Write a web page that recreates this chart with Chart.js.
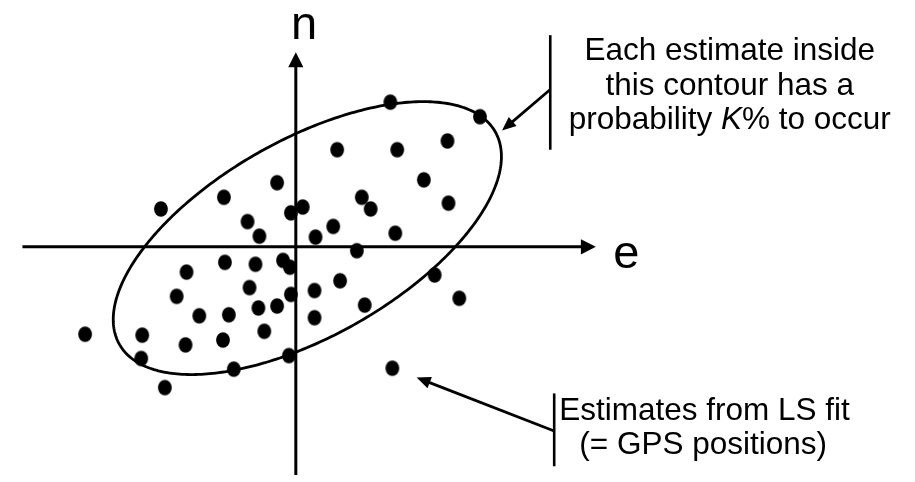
<!DOCTYPE html>
<html>
<head>
<meta charset="utf-8">
<title>Error ellipse of GPS position estimates</title>
<script src="https://cdn.jsdelivr.net/npm/chart.js@4/dist/chart.umd.min.js"></script>
<style>
  html, body { margin: 0; padding: 0; background: #ffffff; }
  #wrap { width: 915px; height: 482px; position: relative; }
</style>
</head>
<body>
<div id="wrap"><canvas id="chart"></canvas></div>
<script>
// Position estimates from the least-squares fit (east, north offsets)
const eastValues = [
  9.6, 18.7, 15.4, 4.2, 10.3, 13.0, -1.9, -7.3, 6.7, -13.7,
  7.6, 15.5, 0.7, -0.5, -4.9, 3.8, -3.7, 2.0, 10.1, 6.2,
  -7.2, -4.1, -1.3, -0.6, -11.1, 14.1, -4.7, 4.5, -0.5, 1.9,
  -12.1, 16.6, -3.8, -1.9, -9.8, -6.8, 7.0, 1.9, -21.4, -15.6,
  -3.2, -11.2, -7.4, -15.7, -0.7, -6.3, 9.8, -13.3
];
const northValues = [
  14.9, 13.4, 10.9, 10.0, 10.0, 6.9, 6.6, 5.1, 5.1, 3.9,
  3.9, 4.5, 4.1, 3.5, 2.6, 2.1, 1.1, 1.0, 1.4, -0.4,
  -1.6, -1.8, -1.4, -2.1, -2.6, -2.9, -4.2, -3.5, -4.9, -4.5,
  -5.1, -5.3, -6.3, -6.1, -7.1, -7.0, -6.0, -7.3, -9.0, -9.1,
  -8.7, -10.1, -9.6, -11.5, -11.2, -12.6, -12.5, -14.5
];

// Confidence contour: centre, semi-axes and orientation (degrees from east)
const ellipseCenter = [1.17, 0.9];
const ellipseAxes = [22.0, 10.1];
const ellipseAngle = 30;

// Axis names
const axisLabels = ['e', 'n'];

// Callout texts
const contourNote = ['Each estimate inside', 'this contour has a', ['probability ', 'K', '% to occur']];
const estimateNote = ['Estimates from LS fit', '(= GPS positions)'];

const points = eastValues.map((e, i) => ({ x: e, y: northValues[i] }));

const FONT = '"Liberation Sans", Arial, Helvetica, sans-serif';
const TEXT_SIZE = 31.5;

// slightly tall oval marker
const marker = document.createElement('canvas');
marker.width = 16; marker.height = 18;
(function () {
  const m = marker.getContext('2d');
  m.fillStyle = '#000';
  m.beginPath();
  m.ellipse(8, 9, 6.9, 7.8, 0, 0, Math.PI * 2);
  m.fill();
})();

function arrowHead(ctx, x0, y0, x1, y1, len, half) {
  const ang = Math.atan2(y1 - y0, x1 - x0);
  const c = Math.cos(ang), s = Math.sin(ang);
  ctx.beginPath();
  ctx.moveTo(x1, y1);
  ctx.lineTo(x1 - len * c - half * s, y1 - len * s + half * c);
  ctx.lineTo(x1 - len * c + half * s, y1 - len * s - half * c);
  ctx.closePath();
  ctx.fill();
}

function arrow(ctx, x0, y0, x1, y1, width, len, half) {
  const ang = Math.atan2(y1 - y0, x1 - x0);
  ctx.lineWidth = width;
  ctx.beginPath();
  ctx.moveTo(x0, y0);
  ctx.lineTo(x1 - (len * 0.8) * Math.cos(ang), y1 - (len * 0.8) * Math.sin(ang));
  ctx.stroke();
  arrowHead(ctx, x0, y0, x1, y1, len, half);
}

const decorPlugin = {
  id: 'decor',
  beforeDatasetsDraw(chart) {
    const ctx = chart.ctx;
    const xs = chart.scales.x, ys = chart.scales.y;
    const X = v => xs.getPixelForValue(v);
    const Y = v => ys.getPixelForValue(v);
    ctx.save();
    ctx.strokeStyle = '#000';
    ctx.fillStyle = '#000';
    ctx.lineCap = 'butt';

    // east axis
    arrow(ctx, X(-27.76), Y(0), X(30.47), Y(0), 3, 15, 7.6);
    // north axis
    arrow(ctx, X(0), Y(-23.5), X(0), Y(20.03), 3, 15, 7.6);

    // confidence ellipse
    const phi = ellipseAngle * Math.PI / 180;
    const [cx, cy] = ellipseCenter;
    const [a, b] = ellipseAxes;
    ctx.lineWidth = 2.8;
    ctx.beginPath();
    for (let i = 0; i <= 360; i++) {
      const t = i * Math.PI / 180;
      const u = a * Math.cos(t), v = b * Math.sin(t);
      const px = X(cx + u * Math.cos(phi) - v * Math.sin(phi));
      const py = Y(cy + u * Math.sin(phi) + v * Math.cos(phi));
      if (i === 0) ctx.moveTo(px, py); else ctx.lineTo(px, py);
    }
    ctx.closePath();
    ctx.stroke();
    ctx.restore();
  },
  afterDatasetsDraw(chart) {
    const ctx = chart.ctx;
    const xs = chart.scales.x, ys = chart.scales.y;
    const X = v => xs.getPixelForValue(v);
    const Y = v => ys.getPixelForValue(v);
    ctx.save();
    ctx.strokeStyle = '#000';
    ctx.fillStyle = '#000';

    // axis names
    ctx.font = '47px ' + FONT;
    ctx.textAlign = 'center';
    ctx.textBaseline = 'alphabetic';
    ctx.fillText(axisLabels[1], X(0.84), Y(21.4));
    ctx.fillText(axisLabels[0], X(33.57), Y(-2.2));

    // callout for the contour
    ctx.lineWidth = 2.6;
    ctx.beginPath();
    ctx.moveTo(X(25.84), Y(21.8));
    ctx.lineTo(X(25.84), Y(10.0));
    ctx.stroke();
    arrow(ctx, X(25.84), Y(16.2), X(20.94), Y(11.97), 2.8, 14, 6);

    ctx.font = TEXT_SIZE + 'px ' + FONT;
    ctx.textAlign = 'center';
    const tcx = X(44.07);
    ctx.fillText(contourNote[0], tcx, Y(19.27));
    ctx.fillText(contourNote[1], tcx, Y(15.67));
    // third line with the italic K
    const parts = contourNote[2];
    const fonts = [TEXT_SIZE + 'px ' + FONT, 'italic ' + TEXT_SIZE + 'px ' + FONT, TEXT_SIZE + 'px ' + FONT];
    let total = 0;
    const widths = parts.map((p, i) => { ctx.font = fonts[i]; const w = ctx.measureText(p).width; total += w; return w; });
    let x = tcx - total / 2;
    ctx.textAlign = 'left';
    parts.forEach((p, i) => { ctx.font = fonts[i]; ctx.fillText(p, x, Y(12.1)); x += widths[i]; });

    // callout for the estimates
    ctx.lineWidth = 2.6;
    ctx.beginPath();
    ctx.moveTo(X(26.24), Y(-15.1));
    ctx.lineTo(X(26.24), Y(-22.6));
    ctx.stroke();
    arrow(ctx, X(26.24), Y(-18.97), X(12.27), Y(-13.47), 2.8, 14, 6);

    ctx.font = TEXT_SIZE + 'px ' + FONT;
    ctx.textAlign = 'center';
    ctx.fillText(estimateNote[0], X(41.5), Y(-17.8));
    ctx.fillText(estimateNote[1], X(41.37), Y(-21.37));
    ctx.restore();
  }
};

new Chart(document.getElementById('chart'), {
  type: 'scatter',
  data: {
    datasets: [{
      label: 'Estimates from LS fit',
      data: points,
      pointStyle: marker,
      pointRadius: 7,
      pointHoverRadius: 7,
      backgroundColor: '#000',
      borderWidth: 0
    }]
  },
  options: {
    responsive: true,
    maintainAspectRatio: false,
    animation: false,
    layout: { padding: 0 },
    plugins: { legend: { display: false }, tooltip: { enabled: false } },
    scales: {
      x: { type: 'linear', display: false, min: -29.33, max: 62.17 },
      y: { type: 'linear', display: false, min: -23.5, max: 24.7 }
    }
  },
  plugins: [decorPlugin]
});
</script>
</body>
</html>
